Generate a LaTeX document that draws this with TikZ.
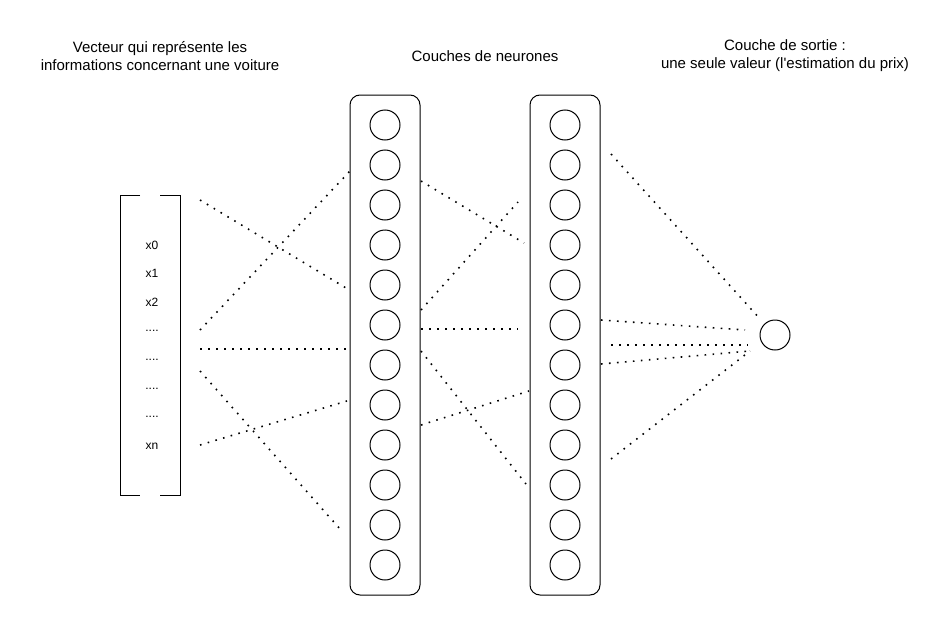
\documentclass[tikz,border=0pt]{standalone}
\usepackage{fontspec}
\setmainfont{Liberation Sans}
\usetikzlibrary{positioning}
\def\dd{....}

\begin{document}
\begin{tikzpicture}[x=1pt,y=-1pt,line width=1pt]
\tikzstyle{every node}+=[inner sep=0pt]
\tikzstyle{title}=[align=center,font=\fontsize{15}{18}\selectfont]
\tikzstyle{neuron}=[draw,circle,minimum size=30pt]
\tikzstyle{layer}=[draw,rounded corners=10pt,minimum width=70pt,minimum height=500pt]
\tikzstyle{link}=[line width=1.6pt,dash pattern=on 1.6pt off 6.4pt]
\useasboundingbox (0,0) rectangle (950,626);
% titles
\node [title] (tvec) at (160,56) {Vecteur qui représente les\\informations concernant une voiture};
\node [title] (tlay) at (485,56) {Couches de neurones};
\node [title] (tout) at (785,56) {Couche de sortie :\\une seule valeur (l\textquotesingle estimation du prix)};
% input vector
\draw [black] (140,195) -- (120,195) -- (120,495) -- (140,495);
\draw [black] (160,195) -- (180,195) -- (180,495) -- (160,495);
\foreach \lab/\i in {x0/0,x1/1,x2/2,\dd/3,\dd/4,\dd/5,\dd/6,xn/7}
  \node [font=\fontsize{12}{14}\selectfont] (x\i) at (152,245+28.7*\i) {\lab};
% hidden layers
\node [layer] (l1) at (385,345) {};
\node [layer] (l2) at (565,345) {};
\foreach \i in {0,...,11} {
  \node [neuron] (a\i) at (385,125+40*\i) {};
  \node [neuron] (b\i) at (565,125+40*\i) {};
}
\node [neuron] (out) at (775,335) {};
% links
\foreach \xa/\ya/\xb/\yb in {200/200/346/288, 200/330/350/171, 200/349/347/349,
    200/371/340/529, 200/445/347/401, 421/181/524/243, 421/310/518/202,
    421/329/518/329, 421/351/526/484, 421/425/529/391, 611/154/761/320,
    601/320/745/330, 611/345/748/345, 601/364/750/351, 611/459/750/351}
  \draw [link] (\xa,\ya) -- (\xb,\yb);
\end{tikzpicture}
\end{document}
